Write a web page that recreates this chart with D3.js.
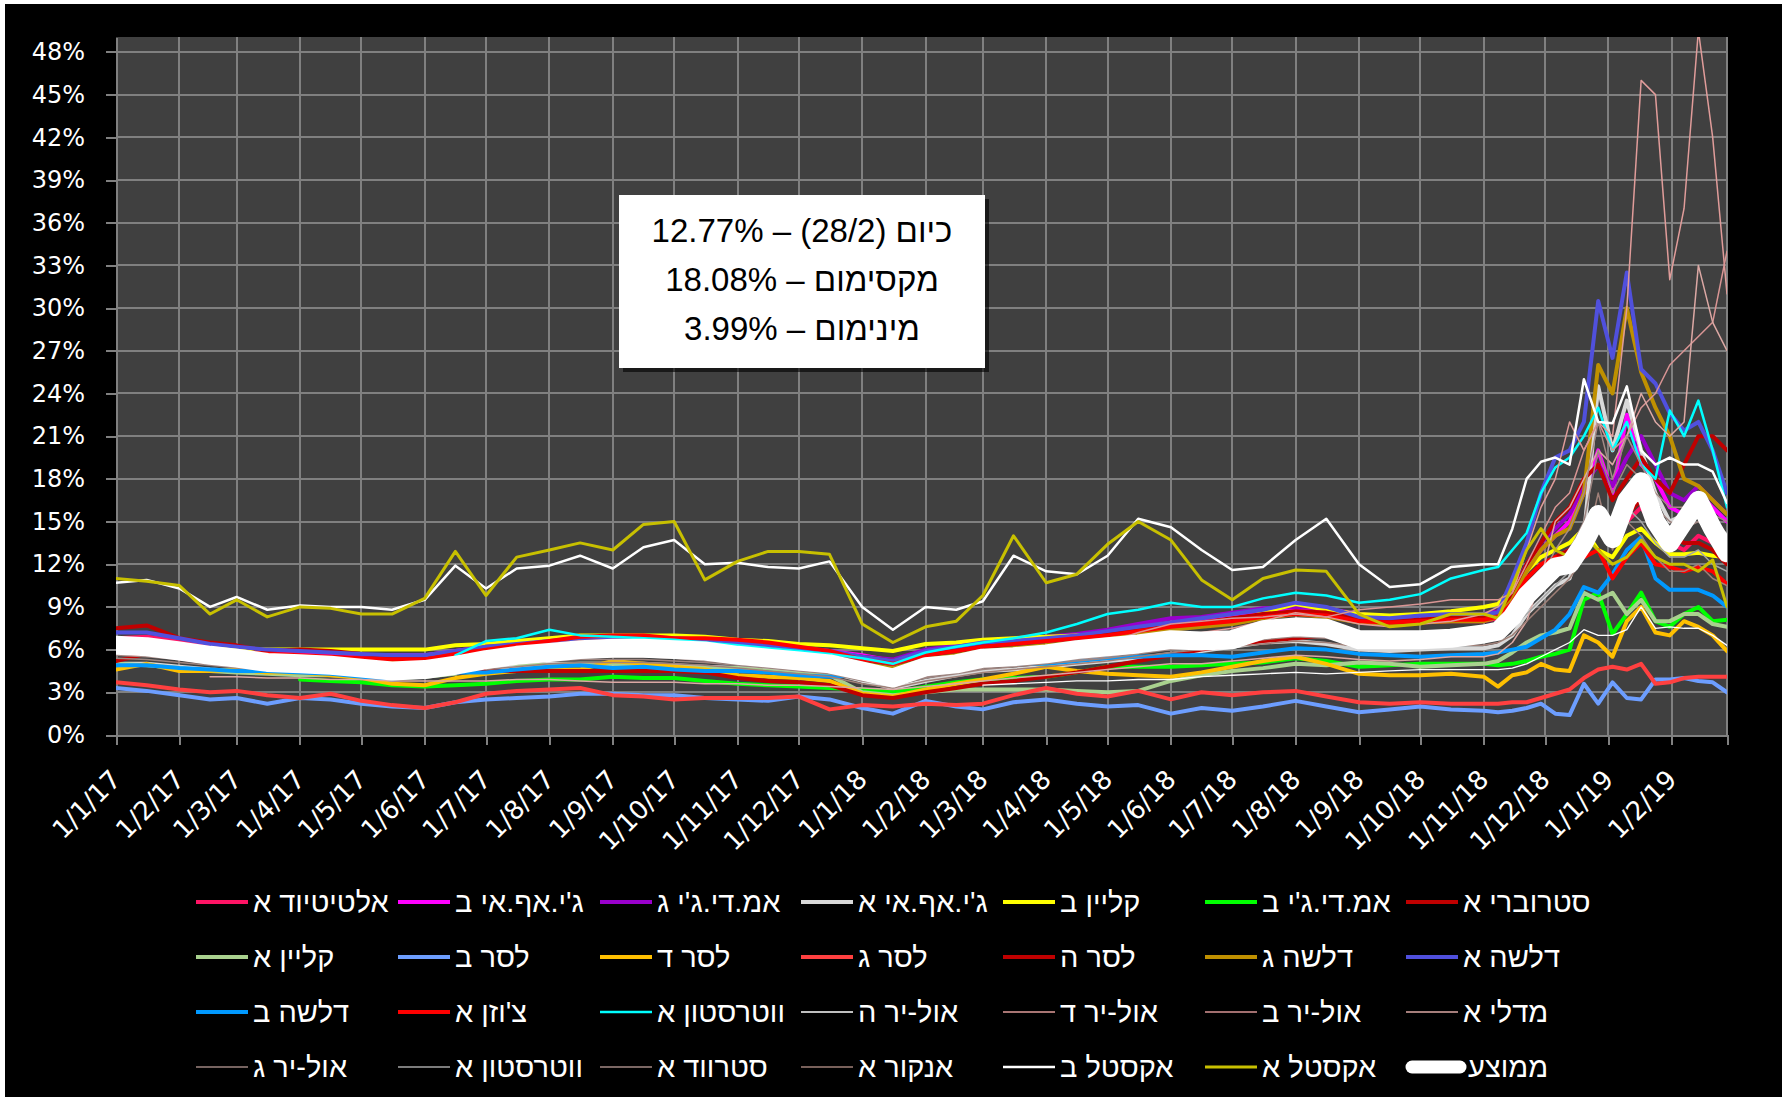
<!DOCTYPE html>
<html>
<head>
<meta charset="utf-8">
<script src="https://d3js.org/d3.v7.min.js"></script>
<style>
body { margin: 0; background: #ffffff; }
.axis path, .axis line { stroke: #808080; stroke-width: 2px; shape-rendering: crispEdges; }
.axis text { fill: #ffffff; font-family: "DejaVu Sans", sans-serif; font-size: 24px; }
.xaxis text { font-size: 26px; }
.grid line { stroke: #808080; stroke-width: 2px; shape-rendering: crispEdges; }
.legend text { fill: #ffffff; font-family: "Liberation Sans", Arial, sans-serif; font-size: 29px; }
.box text { fill: #000000; font-family: "Liberation Sans", Arial, sans-serif; font-size: 33px; }
</style>
</head>
<body>
<div id="chart"></div>
<script>
// dates of the sampled points (twice a month, weekly from Nov 2018)
var dates = ["2017-01-01","2017-01-16","2017-02-01","2017-02-16","2017-03-01","2017-03-16","2017-04-01","2017-04-16","2017-05-01","2017-05-16","2017-06-01","2017-06-16","2017-07-01","2017-07-16","2017-08-01","2017-08-16","2017-09-01","2017-09-16","2017-10-01","2017-10-16","2017-11-01","2017-11-16","2017-12-01","2017-12-16",
	"2018-01-01","2018-01-16","2018-02-01","2018-02-16","2018-03-01","2018-03-16","2018-04-01","2018-04-16","2018-05-01","2018-05-16","2018-06-01","2018-06-16","2018-07-01","2018-07-16","2018-08-01","2018-08-16","2018-09-01","2018-09-16","2018-10-01","2018-10-16",
	"2018-11-01","2018-11-08","2018-11-15","2018-11-22","2018-11-29","2018-12-06","2018-12-13","2018-12-20","2018-12-27","2019-01-03","2019-01-10","2019-01-17","2019-01-24","2019-01-31","2019-02-07","2019-02-14","2019-02-21","2019-02-28"];

var yTicks = [0, 3, 6, 9, 12, 15, 18, 21, 24, 27, 30, 33, 36, 39, 42, 45, 48];

// values in %
var altitudeA = [6.8,6.9,6.6,6.3,6.0,5.8,5.7,5.6,5.5,5.4,5.4,5.7,6.0,6.2,6.4,6.6,6.7,6.8,6.7,6.6,6.4,6.2,6.0,5.8,
	5.4,5.0,5.7,6.0,6.3,6.5,6.6,6.8,7.0,7.3,7.6,7.8,8.0,8.4,8.6,8.5,8.0,7.8,7.9,8.0,
	8.0,8.2,9.0,10.5,11.5,12.5,13.0,14.0,15.0,13.5,15.0,16.0,14.5,13.5,13.0,14.0,13.5,12.5];
var gfiB = [6.4,6.3,6.1,5.9,5.8,5.7,5.6,5.6,5.6,5.6,5.6,5.9,6.2,6.4,6.6,6.8,6.9,6.9,6.8,6.7,6.5,6.3,6.1,5.9,
	5.6,5.2,5.9,6.2,6.5,6.6,6.8,7.0,7.2,7.5,7.9,8.0,8.3,8.6,8.8,8.6,8.2,8.0,8.1,8.2,
	8.2,8.4,9.5,11.5,13.0,14.0,15.0,17.0,20.0,17.0,22.5,19.0,18.0,16.0,15.5,17.0,16.0,15.0];
var mdgC = [6.2,6.2,6.0,5.8,5.7,5.6,5.5,5.5,5.4,5.4,5.5,5.8,6.1,6.3,6.5,6.7,6.8,6.8,6.7,6.6,6.4,6.2,6.0,5.8,
	5.5,5.3,6.0,6.3,6.6,6.7,6.9,7.1,7.4,7.8,8.2,8.3,8.6,8.9,9.0,8.9,8.5,8.3,8.4,8.5,
	8.5,8.7,10.0,12.0,13.5,14.5,15.5,17.5,19.0,17.5,19.5,21.0,19.0,17.0,16.5,17.5,16.5,15.5];
var gfiA = [5.0,5.0,4.8,4.6,4.5,4.4,4.3,4.3,4.2,4.1,4.2,4.4,4.7,4.8,5.0,5.0,5.0,5.0,4.9,4.8,4.7,4.6,4.5,4.4,
	3.8,3.3,3.8,4.2,4.5,4.6,4.8,5.0,5.2,5.4,5.7,5.9,6.2,6.5,6.6,6.4,6.0,5.9,6.0,6.1,
	6.1,6.3,7.0,8.5,9.5,10.5,11.0,14.0,24.5,20.0,23.5,20.0,17.0,15.0,15.5,16.0,15.0,14.0];
var kleinB = [6.5,6.4,6.2,6.1,6.0,6.0,6.0,6.0,6.0,6.0,6.0,6.3,6.4,6.6,6.8,7.0,7.0,7.0,7.0,6.9,6.7,6.6,6.4,6.3,
	6.1,5.9,6.4,6.5,6.7,6.8,6.9,7.0,7.0,7.3,7.6,7.7,7.9,8.6,9.2,8.8,8.5,8.4,8.5,8.7,
	9.0,9.2,10.4,11.5,12.5,13.0,13.5,14.5,13.0,12.5,14.0,14.5,13.5,12.7,12.7,12.8,12.6,12.5];
var mdgB = [null,null,null,null,null,null,3.9,3.8,3.7,3.5,3.4,3.5,3.6,3.8,3.9,3.9,4.1,4.0,4.0,3.8,3.6,3.5,3.4,3.3,
	3.2,3.0,3.4,3.7,3.9,4.0,4.1,4.4,4.8,4.8,4.8,4.9,5.0,5.1,5.4,5.2,4.8,4.9,5.0,5.0,
	5.0,4.9,5.0,5.2,5.5,5.7,6.0,9.5,10.0,7.1,8.5,10.0,8.0,7.6,8.5,9.0,8.0,8.1];
var strawberryA = [7.5,7.7,6.8,6.5,6.3,5.9,6.0,5.9,5.7,5.5,5.4,5.6,6.2,6.3,6.5,6.7,6.8,6.7,6.6,6.5,6.3,6.1,6.0,5.8,
	5.5,5.2,5.8,6.1,6.4,6.5,6.7,6.9,7.1,7.4,7.8,7.9,8.2,8.5,8.7,8.6,8.2,8.0,8.1,8.3,
	8.3,8.6,9.8,12.0,13.5,15.0,16.0,18.0,19.0,16.5,18.0,19.5,18.0,17.0,19.0,21.0,21.0,20.0];
var kleinA = [5.0,4.9,4.7,4.5,4.4,4.3,4.2,4.2,4.1,4.0,4.1,4.3,5.2,5.0,4.9,5.0,5.0,4.9,4.8,4.7,4.7,4.5,4.3,4.2,
	3.0,2.8,3.0,3.2,3.2,3.2,3.2,3.1,3.0,3.1,3.8,4.2,4.5,4.7,5.0,4.9,5.1,5.0,4.8,4.9,
	5.0,5.2,5.8,6.5,7.0,7.2,7.5,10.0,9.5,10.0,8.5,9.5,8.0,8.0,8.5,8.5,7.8,7.6];
var laserB = [3.3,3.1,2.8,2.5,2.6,2.2,2.6,2.5,2.2,2.0,1.9,2.3,2.5,2.6,2.7,2.9,2.9,2.8,2.8,2.6,2.5,2.4,2.7,2.5,
	1.9,1.5,2.4,2.0,1.8,2.3,2.5,2.2,2.0,2.1,1.5,1.9,1.7,2.0,2.4,2.0,1.6,1.8,2.0,1.8,
	1.7,1.6,1.7,1.9,2.2,1.5,1.4,3.6,2.2,3.7,2.6,2.5,3.9,3.9,4.0,3.8,3.7,3.0];
var laserD = [4.6,5.0,4.5,4.5,4.6,4.4,4.4,4.2,4.0,3.6,3.5,4.0,4.3,4.5,4.6,4.6,5.2,5.0,4.8,4.6,4.2,4.1,4.0,3.8,
	2.9,2.7,3.2,3.6,3.9,4.3,4.8,4.5,4.3,4.2,4.1,4.4,4.8,5.2,5.5,5.0,4.3,4.2,4.2,4.3,
	4.1,3.4,4.2,4.4,5.0,4.6,4.5,7.0,6.5,5.5,8.0,9.0,7.2,7.0,8.0,7.6,7.0,5.9];
var laserG = [3.7,3.5,3.2,3.0,3.1,2.8,2.6,2.9,2.4,2.1,1.9,2.3,2.9,3.1,3.2,3.3,2.8,2.7,2.5,2.6,2.6,2.6,2.7,1.8,
	2.1,2.0,2.2,2.1,2.2,2.8,3.3,2.9,2.7,3.1,2.5,3.0,2.8,3.0,3.1,2.7,2.3,2.2,2.3,2.2,
	2.2,2.2,2.3,2.3,2.6,2.9,3.2,4.0,4.6,4.8,4.6,5.0,3.6,3.7,4.0,4.1,4.1,4.1];
var laserH = [5.2,5.7,5.4,5.1,4.9,4.8,4.7,4.6,4.5,4.4,4.4,4.4,4.5,4.5,4.5,4.5,4.5,4.5,4.5,4.4,4.0,3.8,3.7,3.5,
	2.8,2.6,3.0,3.3,3.6,3.8,4.1,4.4,4.8,5.2,5.6,6.0,6.3,6.6,6.8,7.0,6.8,6.6,6.8,7.0,
	7.2,7.4,8.5,10.0,11.0,12.5,13.0,14.0,15.0,14.0,15.5,16.5,15.0,14.0,13.5,13.5,13.0,12.0];
var dalshaG = [6.6,6.5,6.3,6.0,5.8,5.6,5.5,5.4,5.3,5.2,5.2,5.5,5.8,6.0,6.2,6.4,6.5,6.5,6.4,6.3,6.1,5.9,5.7,5.5,
	5.0,4.7,5.3,5.6,5.9,6.1,6.3,6.5,6.8,7.1,7.4,7.6,7.8,8.2,8.5,8.3,7.9,7.8,7.9,8.0,
	8.0,8.3,9.5,11.5,13.0,14.0,14.5,17.0,26.0,24.0,30.0,25.5,23.0,21.0,18.0,17.5,16.5,15.5];
var dalshaA = [7.2,7.2,6.8,6.4,6.2,6.0,5.9,5.8,5.7,5.6,5.6,5.9,6.2,6.4,6.6,6.8,6.9,6.9,6.8,6.7,6.5,6.3,6.1,5.9,
	5.5,5.2,5.9,6.2,6.5,6.6,6.8,7.0,7.3,7.6,7.9,8.2,8.5,8.8,9.3,9.0,8.3,8.2,8.4,8.5,
	8.5,8.6,11.0,13.5,17.0,19.5,20.0,22.0,30.5,26.5,32.5,25.7,24.7,22.6,21.4,22.0,20.0,17.0];
var dalshaB = [4.9,4.9,4.7,4.6,4.5,4.5,4.4,4.3,4.1,3.9,4.3,4.4,4.4,4.6,4.8,4.9,4.7,4.8,4.6,4.5,4.5,4.4,4.2,4.1,
	4.2,4.1,4.5,4.8,5.0,5.0,5.0,5.2,5.4,5.5,5.6,5.6,5.5,5.8,6.1,6.0,5.7,5.6,5.5,5.6,
	5.7,5.8,6.0,6.2,6.8,7.4,8.5,10.4,10.0,11.3,13.0,13.9,11.0,10.2,10.2,10.2,9.8,9.0];
var chosenA = [6.6,6.5,6.3,6.0,5.8,5.7,5.6,5.5,5.4,5.3,5.3,5.7,6.0,6.3,6.6,6.9,7.0,7.0,6.8,6.8,6.7,6.5,6.2,5.9,
	5.3,5.0,5.6,5.9,6.2,6.4,6.6,6.8,7.0,7.3,7.6,7.8,8.0,8.3,8.5,8.4,8.0,7.9,8.0,8.1,
	8.1,8.3,9.3,11.0,12.0,12.5,12.0,12.5,13.0,11.0,12.5,13.5,12.0,11.8,11.5,11.8,11.5,10.6];
var waterstonA = [null,null,null,null,null,null,null,null,null,null,null,5.6,6.6,6.8,7.4,7.0,6.9,6.8,6.7,6.5,6.3,6.1,5.9,5.7,
	5.4,5.0,5.8,6.2,6.5,6.8,7.2,7.8,8.5,8.8,9.3,9.0,9.0,9.6,10.0,9.8,9.3,9.5,9.9,11.0,
	11.6,11.8,13.0,14.2,17.0,18.8,19.5,21.0,23.0,20.0,22.0,19.0,18.0,22.8,21.0,23.5,20.0,16.0];
var olyrH = [null,null,null,null,null,null,null,null,null,null,null,null,null,null,null,null,null,null,null,null,null,null,null,null,
	null,null,null,null,3.5,3.6,3.7,3.8,3.8,3.9,3.9,4.1,4.2,4.3,4.4,4.3,4.4,4.5,4.6,4.6,
	4.6,4.6,4.7,5.0,5.5,6.0,6.5,7.4,7.0,7.0,7.4,9.0,7.5,7.6,7.5,7.5,7.0,6.3];
var olyrD = [null,null,null,null,null,null,null,null,null,null,null,null,5.0,5.2,5.4,5.5,5.6,5.6,5.5,5.4,5.2,5.0,4.8,4.6,
	4.0,3.7,4.3,4.6,4.9,5.1,5.3,5.6,6.0,6.4,6.8,7.2,7.5,8.0,8.6,8.3,7.8,7.6,7.8,8.0,
	8.5,9.0,10.0,13.0,16.0,18.0,22.0,20.0,22.0,21.0,30.0,46.0,45.0,32.0,37.0,49.5,42.0,31.0];
var olyrB = [5.8,5.7,5.5,5.2,5.0,4.8,4.7,4.6,4.5,4.4,4.4,4.6,5.0,5.2,5.4,5.6,5.7,5.7,5.6,5.5,5.3,5.1,4.9,4.7,
	4.2,3.8,4.4,4.8,5.1,5.3,5.5,5.8,6.5,7.2,7.8,8.0,8.2,8.3,8.5,8.3,8.8,9.0,9.2,9.5,
	9.5,9.5,10.0,12.0,14.0,16.0,17.0,20.0,22.0,20.0,21.0,23.0,24.0,26.0,27.0,28.0,29.0,34.0];
var medliA = [null,null,null,4.1,4.1,4.0,4.0,3.9,3.9,3.8,3.8,3.8,3.8,3.9,3.9,3.8,3.7,3.7,3.7,3.6,3.6,3.5,3.5,3.4,
	3.3,3.2,3.4,3.6,3.8,4.0,4.2,4.4,4.6,4.8,5.0,5.0,5.2,5.4,5.6,5.5,5.3,5.2,5.3,5.5,
	5.5,5.7,6.5,8.0,11.0,15.0,16.0,18.0,20.0,19.0,21.0,24.0,22.0,21.0,22.0,33.0,29.0,27.0];
var olyrG = [5.4,5.3,5.1,4.9,4.7,4.6,4.5,4.4,4.3,4.2,4.3,4.5,4.8,5.0,5.2,5.3,5.3,5.3,5.2,5.1,4.9,4.7,4.5,4.3,
	3.8,3.5,4.0,4.3,4.6,4.8,5.0,5.2,5.4,5.7,6.0,6.2,6.4,6.7,6.9,6.8,6.4,6.3,6.4,6.5,
	6.6,6.8,7.5,9.0,10.5,12.0,13.0,15.0,20.0,17.0,19.0,18.0,16.0,15.0,14.5,15.0,14.0,13.5];
var waterstonA2 = [null,null,null,null,null,null,null,null,null,null,null,null,null,null,null,null,null,null,null,null,null,null,null,null,
	4.2,3.9,4.4,4.7,5.0,5.1,5.3,5.5,5.7,6.0,6.2,6.3,6.5,6.8,7.0,6.9,6.5,6.4,6.5,6.6,
	6.7,6.9,7.5,8.5,9.5,10.5,11.5,13.0,16.0,14.0,16.0,15.0,13.5,12.5,12.5,13.0,12.0,11.5];
var stravodA = [5.6,5.5,5.3,5.0,4.8,4.7,4.6,4.5,4.4,4.3,4.4,4.6,4.9,5.1,5.3,5.4,5.5,5.5,5.4,5.2,5.0,4.8,4.6,4.4,
	3.9,3.6,4.1,4.4,4.7,4.9,5.1,5.3,5.5,5.8,6.1,6.3,6.6,6.9,7.1,7.0,6.6,6.5,6.6,6.7,
	6.8,7.0,7.8,9.5,11.0,13.0,14.5,17.0,22.0,18.0,21.0,19.0,17.0,16.0,16.0,16.5,15.5,15.0];
var ankorA = [null,null,null,null,null,null,null,null,null,null,null,null,4.6,4.8,5.0,5.1,5.1,5.1,5.0,4.9,4.7,4.5,4.3,4.1,
	3.6,3.3,3.8,4.1,4.4,4.6,4.8,5.0,5.2,5.5,5.8,6.0,6.2,6.4,6.6,6.5,6.2,6.1,6.2,6.3,
	6.3,6.5,7.0,8.0,9.0,10.0,11.0,12.5,17.0,13.0,15.0,14.0,12.5,11.5,11.5,12.0,11.0,10.5];
var extelB = [10.7,10.9,10.3,9.0,9.7,8.8,9.1,9.0,9.0,8.8,9.5,11.9,10.3,11.7,11.9,12.6,11.7,13.2,13.7,12.0,12.1,11.8,11.7,12.2,
	9.0,7.4,9.0,8.8,9.4,12.6,11.5,11.3,12.6,15.2,14.6,13.0,11.6,11.8,13.7,15.2,12.0,10.4,10.6,11.8,
	12.0,12.0,14.5,18.0,19.2,19.5,19.0,25.0,22.0,21.9,24.5,20.0,19.0,19.5,19.0,19.0,18.5,16.3];
var extelA = [11.0,10.8,10.5,8.5,9.5,8.3,9.0,8.9,8.5,8.5,9.6,12.9,9.8,12.5,13.0,13.5,13.0,14.8,15.0,10.9,12.2,12.9,12.9,12.7,
	7.8,6.5,7.6,8.0,9.8,14.0,10.7,11.3,13.4,15.0,13.7,10.9,9.5,11.0,11.6,11.5,8.5,7.6,7.8,8.5,
	8.5,8.2,10.5,13.0,14.5,13.0,12.5,14.0,13.0,12.0,12.5,13.7,12.5,12.0,12.0,11.5,12.3,9.0];
var average = [6.3,6.2,5.9,5.6,5.4,5.1,5.0,4.9,4.7,4.5,4.6,4.9,5.3,5.6,5.8,6.0,6.1,6.1,6.0,5.9,5.6,5.4,5.2,5.0,
	4.5,4.0,4.8,5.0,5.4,5.5,5.7,6.0,6.2,6.4,6.7,6.6,6.7,7.4,7.6,7.5,6.7,6.7,6.7,6.8,
	7.1,7.3,8.3,9.8,10.8,11.8,12.0,13.5,15.5,13.8,16.5,17.8,15.0,13.5,15.0,16.5,14.5,12.8];

var seriesNames = ["אלטיטיוד א", "ג'י.אף.אי ב", "אמ.די.ג'י ג", "ג'י.אף.אי א", "קליין ב", "אמ.די.ג'י ב", "סטרוברי א",
	"קליין א", "לסר ב", "לסר ד", "לסר ג", "לסר ה", "דלשה ג", "דלשה א",
	"דלשה ב", "צ'וזן א", "ווטרסטון א", "אול-יר ה", "אול-יר ד", "אול-יר ב", "מדלי  א",
	"אול-יר ג", "ווטרסטון א", "סטרווד א", "אנקור א", "אקסטל ב", "אקסטל א", "ממוצע"];
var seriesValues = [altitudeA, gfiB, mdgC, gfiA, kleinB, mdgB, strawberryA,
	kleinA, laserB, laserD, laserG, laserH, dalshaG, dalshaA,
	dalshaB, chosenA, waterstonA, olyrH, olyrD, olyrB, medliA,
	olyrG, waterstonA2, stravodA, ankorA, extelB, extelA, average];

// styles
var seriesColors = ["#ff1465", "#ff00ff", "#9900cc", "#d9d9d9", "#ffff00", "#00ff00", "#c00000",
	"#a9d18e", "#6d9eff", "#ffc000", "#ff4040", "#c00000", "#bf9000", "#5050dd",
	"#0099ff", "#ff0000", "#00ffff", "#ffffff", "#e09c9a", "#d99594", "#dca8a4",
	"#9e8580", "#a6a6a6", "#a58a86", "#a08078", "#ffffff", "#c8c000", "#ffffff"];
var seriesWidths = [4, 4, 4, 4, 4, 4, 4,
	4, 4, 4, 4, 4, 4, 4,
	4, 4, 2.5, 1.3, 1.5, 1.5, 1.5,
	1.5, 1.5, 1.5, 1.5, 2.5, 3, 19];

var width = 1787, height = 1101;
var plotLeft = 116, plotRight = 1727, plotTop = 37, plotBottom = 735;

var svg = d3.select("#chart").append("svg")
	.attr("width", width)
	.attr("height", height);

svg.append("rect")
	.attr("x", 5).attr("y", 4)
	.attr("width", 1777).attr("height", 1093)
	.attr("fill", "#000000");

var parseDate = d3.timeParse("%Y-%m-%d");
var xDates = dates.map(parseDate);

var x = d3.scaleTime()
	.domain([parseDate("2017-01-01"), parseDate("2019-02-28")])
	.range([plotLeft, plotRight]);
var y = d3.scaleLinear()
	.domain([0, 49.05])
	.range([plotBottom, plotTop]);

//plot area
svg.append("rect")
	.attr("x", plotLeft).attr("y", plotTop)
	.attr("width", plotRight - plotLeft).attr("height", plotBottom - plotTop)
	.attr("fill", "#404040");

var months = d3.timeMonth.range(parseDate("2017-01-01"), parseDate("2019-02-02"));

//grid lines
var grid = svg.append("g").attr("class", "grid");
grid.selectAll("line.h").data(yTicks.slice(1)).enter().append("line")
	.attr("class", "h")
	.attr("x1", plotLeft).attr("x2", plotRight)
	.attr("y1", function(d) { return y(d); })
	.attr("y2", function(d) { return y(d); });
grid.selectAll("line.v").data(months.slice(1).concat([x.domain()[1]])).enter().append("line")
	.attr("class", "v")
	.attr("x1", function(d) { return x(d); })
	.attr("x2", function(d) { return x(d); })
	.attr("y1", plotTop).attr("y2", plotBottom);

var yAxis = d3.axisLeft(y)
	.tickValues(yTicks)
	.tickSize(10)
	.tickSizeOuter(0)
	.tickPadding(21)
	.tickFormat(function(d) { return d + "%"; });
svg.append("g")
	.attr("class", "axis")
	.attr("transform", "translate(" + plotLeft + ",0)")
	.call(yAxis);

var xAxis = d3.axisBottom(x)
	.tickValues(months)
	.tickSize(10)
	.tickSizeOuter(10)
	.tickFormat(d3.timeFormat("%-d/%-m/%y"));
var gx = svg.append("g")
	.attr("class", "axis xaxis")
	.attr("transform", "translate(0," + plotBottom + ")")
	.call(xAxis);
gx.selectAll("text")
	.attr("x", 0).attr("y", 0).attr("dy", 0)
	.attr("text-anchor", "end")
	.attr("transform", "translate(6,46) rotate(-45)");

//series lines
svg.append("clipPath").attr("id", "plotClip")
	.append("rect")
	.attr("x", plotLeft).attr("y", plotTop)
	.attr("width", plotRight - plotLeft).attr("height", plotBottom - plotTop);

var line = d3.line()
	.defined(function(d) { return d[1] != null; })
	.x(function(d) { return x(d[0]); })
	.y(function(d) { return y(d[1]); });

var lines = svg.append("g").attr("clip-path", "url(#plotClip)");
seriesValues.forEach(function(vals, i) {
	var pts = vals.map(function(v, j) { return [xDates[j], v]; });
	lines.append("path")
		.attr("d", line(pts))
		.attr("fill", "none")
		.attr("stroke", seriesColors[i])
		.attr("stroke-width", seriesWidths[i])
		.attr("stroke-linejoin", "round")
		.attr("stroke-linecap", "round");
});

//legend, 7 columns x 4 rows
var legendX = [196, 398, 600, 801, 1003, 1205, 1406];
var legendY = [902, 957, 1012, 1067];
var legend = svg.append("g").attr("class", "legend");
seriesNames.forEach(function(name, i) {
	var lx = legendX[i % 7], ly = legendY[Math.floor(i / 7)];
	var isAvg = (seriesWidths[i] > 10);
	legend.append("line")
		.attr("x1", lx + (isAvg ? 6 : 0)).attr("x2", lx + (isAvg ? 54 : 52))
		.attr("y1", ly).attr("y2", ly)
		.attr("stroke", seriesColors[i])
		.attr("stroke-width", isAvg ? 13 : Math.max(seriesWidths[i], 1.5))
		.attr("stroke-linecap", isAvg ? "round" : "butt");
	legend.append("text")
		.attr("x", lx + (isAvg ? 62 : 57))
		.attr("y", ly + 10)
		.text(name);
});

//info box
var box = svg.append("g").attr("class", "box");
box.append("rect")
	.attr("x", 623).attr("y", 199)
	.attr("width", 366).attr("height", 173)
	.attr("fill", "#000000").attr("opacity", 0.6);
box.append("rect")
	.attr("x", 619).attr("y", 195)
	.attr("width", 366).attr("height", 173)
	.attr("fill", "#ffffff");
var boxLines = ["כיום (28/2) – 12.77%", "מקסימום – 18.08%", "מינימום – 3.99%"];
box.selectAll("text").data(boxLines).enter().append("text")
	.attr("x", 802)
	.attr("y", function(d, i) { return 242 + i * 49; })
	.attr("direction", "rtl")
	.attr("text-anchor", "middle")
	.text(function(d) { return d; });
</script>
</body>
</html>
